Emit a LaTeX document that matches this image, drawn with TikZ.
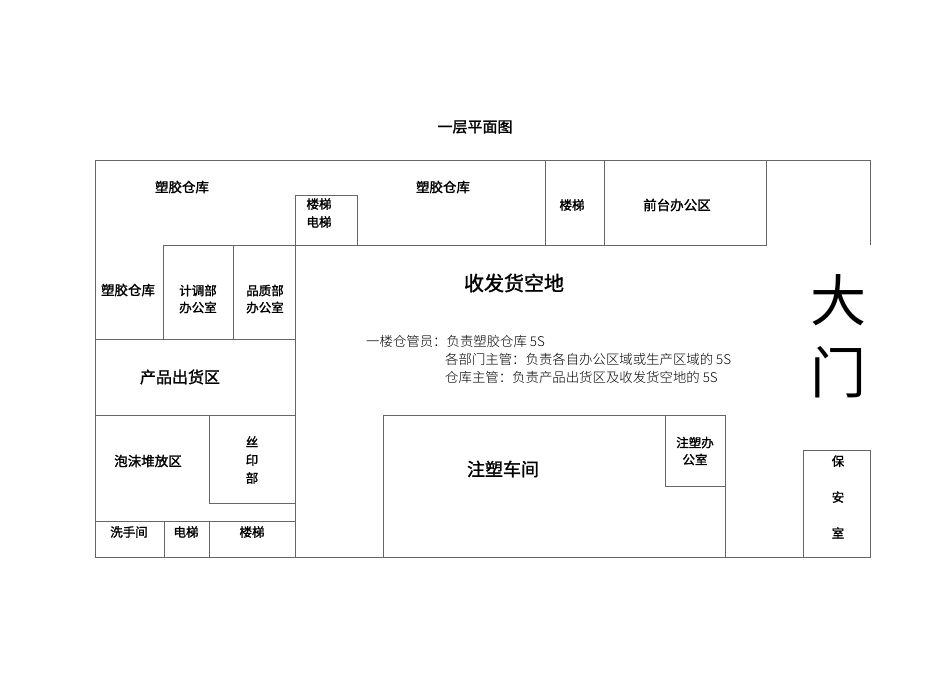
\documentclass[tikz,border=0pt]{standalone}
\usepackage{fontspec}
\setmainfont{Liberation Serif}
\newfontfamily\cjk{Noto Sans CJK SC}
\newfontfamily\cjkl{Noto Sans CJK SC Light}
\newfontfamily\cjkb{Noto Sans CJK SC}[FakeBold=1.5]
\begin{document}
\begin{tikzpicture}[x=1pt,y=-1pt,
  wall/.style={draw=black!60,line width=0.9pt},
  lab/.style={font=\cjkb\fontsize{12.5}{15}\selectfont,align=center,inner sep=0pt},
  big/.style={font=\cjkb\fontsize{18}{20}\selectfont,inner sep=0pt},
  note/.style={font=\cjkl\fontsize{13.4}{15}\selectfont,anchor=west,inner sep=0pt,text=black}]
\useasboundingbox (0,0) rectangle (950,672);
% walls
\draw[wall] (870,245) -- (870,160) -- (95,160) -- (95,557) -- (870,557) -- (870,450);
\draw[wall] (163,245) -- (766,245) -- (766,160);
\draw[wall] (545,160) -- (545,245);
\draw[wall] (604,160) -- (604,245);
\draw[wall] (295,557) -- (295,195) -- (357,195) -- (357,245);
\draw[wall] (95,339) -- (295,339);
\draw[wall] (163,245) -- (163,339);
\draw[wall] (233,245) -- (233,339);
\draw[wall] (95,415) -- (295,415);
\draw[wall] (209,415) -- (209,503) -- (295,503);
\draw[wall] (95,521) -- (295,521);
\draw[wall] (164,521) -- (164,557);
\draw[wall] (209,521) -- (209,557);
\draw[wall] (383,557) -- (383,415) -- (725,415) -- (725,557);
\draw[wall] (665,415) -- (665,486) -- (725,486);
\draw[wall] (803,557) -- (803,450) -- (870,450);
% labels
\node[lab,font=\cjkb\fontsize{15}{17}\selectfont] (title) at (475,127) {一层平面图};
\node[lab,font=\cjkb\fontsize{13.5}{15}\selectfont] (w1) at (182,187) {塑胶仓库};
\node[lab,font=\cjkb\fontsize{13.5}{15}\selectfont] (w2) at (443,187) {塑胶仓库};
\node[lab] (st1) at (572,205) {楼梯};
\node[lab,font=\cjkb\fontsize{13.5}{15}\selectfont] (fr) at (677,205) {前台办公区};
\node[lab] (st2) at (319,213) {楼梯\\[3pt]电梯};
\node[lab,font=\cjkb\fontsize{13.5}{15}\selectfont] (w3) at (128,290) {塑胶仓库};
\node[lab] (jd) at (198,299) {计调部\\[2pt]办公室};
\node[lab] (pz) at (265,299) {品质部\\[2pt]办公室};
\node[lab,font=\cjkb\fontsize{16}{18}\selectfont] (out) at (180,377) {产品出货区};
\node[lab,font=\cjkb\fontsize{13.5}{15}\selectfont] (pm) at (148,461) {泡沫堆放区};
\node[lab] (sy) at (252,460) {丝\\[3pt]印\\[3pt]部};
\node[lab] (xs) at (129,532) {洗手间};
\node[lab] (dt) at (186,532) {电梯};
\node[lab] (st3) at (252,532) {楼梯};
\node[big] (zs) at (503,469) {注塑车间};
\node[lab] (zb) at (695,451) {注塑办\\[2pt]公室};
\node[lab] (ba) at (838,497) {保\\[21pt]安\\[21pt]室};
\node[big,font=\cjkb\fontsize{20}{22}\selectfont] (sf) at (514,283) {收发货空地};
\node[inner sep=0pt,font=\cjk\fontsize{56}{56}\selectfont] (da) at (838,300) {大};
\node[inner sep=0pt,font=\cjk\fontsize{56}{56}\selectfont] (men) at (838,372) {门};
\node[note] (n1) at (366,341) {一楼仓管员：负责塑胶仓库 5S};
\node[note] (n2) at (445,359) {各部门主管：负责各自办公区域或生产区域的 5S};
\node[note] (n3) at (445,377) {仓库主管：负责产品出货区及收发货空地的 5S};
\end{tikzpicture}
\end{document}
